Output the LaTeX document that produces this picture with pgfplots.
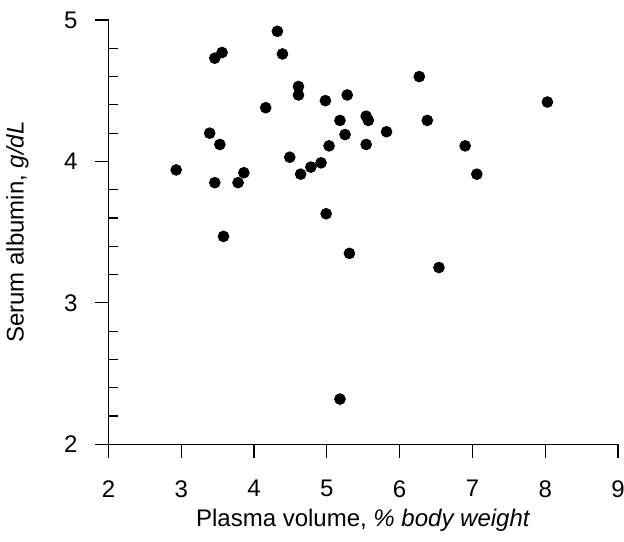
\documentclass[border=0pt]{standalone}
\usepackage{fontspec}
\setmainfont{Liberation Sans}
\usepackage{pgfplots}
\pgfplotsset{compat=1.18}

\begin{document}
\fontsize{12pt}{14pt}\selectfont
\begin{tikzpicture}
\begin{axis}[
  name=ax,
  scale only axis,
  width=254.75pt, height=212.15pt,
  xmin=2, xmax=9, ymin=2, ymax=5,
  axis x line*=bottom, axis y line*=left,
  axis line style={-, black, line width=0.6pt},
  xtick={2,3,4,5,6,7,8,9},
  ytick={2,3,4,5},
  minor y tick num=4,
  tick align=outside,
  tick style={black, line width=0.6pt},
  major tick length=6.8pt,
  minor tick length=-4.5pt,
  xticklabel shift=7pt,
  yticklabel shift=4.5pt,
  /pgf/number format/assume math mode=true,
  ticklabel style={font=\fontsize{12pt}{14pt}\selectfont},
  label style={font=\fontsize{12pt}{14pt}\selectfont},
  xlabel={Plasma volume, \textit{\% body weight}},
  ylabel={Serum albumin, \textit{g/dL}},
  x label style={at={(axis description cs:0.5,0)}, anchor=center, yshift=-38pt},
  y label style={at={(axis description cs:0,0.5)}, anchor=center, yshift=45.5pt},
  clip=false,
]
\addplot[only marks, mark=*, mark size=2.7pt, black] coordinates {
  (2.93,3.94) (3.39,4.20) (3.46,4.73) (3.46,3.85) (3.53,4.12) (3.56,4.77)
  (3.58,3.47) (3.78,3.85) (3.86,3.92) (4.16,4.38) (4.32,4.92) (4.39,4.76)
  (4.49,4.03) (4.61,4.53) (4.61,4.47) (4.64,3.91) (4.78,3.96) (4.92,3.99)
  (4.98,4.43) (4.99,3.63) (5.03,4.11) (5.18,4.29) (5.18,2.32) (5.25,4.19)
  (5.28,4.47) (5.31,3.35) (5.54,4.32) (5.54,4.12) (5.57,4.29) (5.82,4.21)
  (6.27,4.60) (6.38,4.29) (6.54,3.25) (6.90,4.11) (7.06,3.91) (8.03,4.42)
};
\end{axis}
\pgfresetboundingbox
\path[use as bounding box] ([shift={(-54.25pt,-48.35pt)}]ax.south west)
  rectangle ([shift={(3pt,10pt)}]ax.north east);
\end{tikzpicture}
\end{document}
